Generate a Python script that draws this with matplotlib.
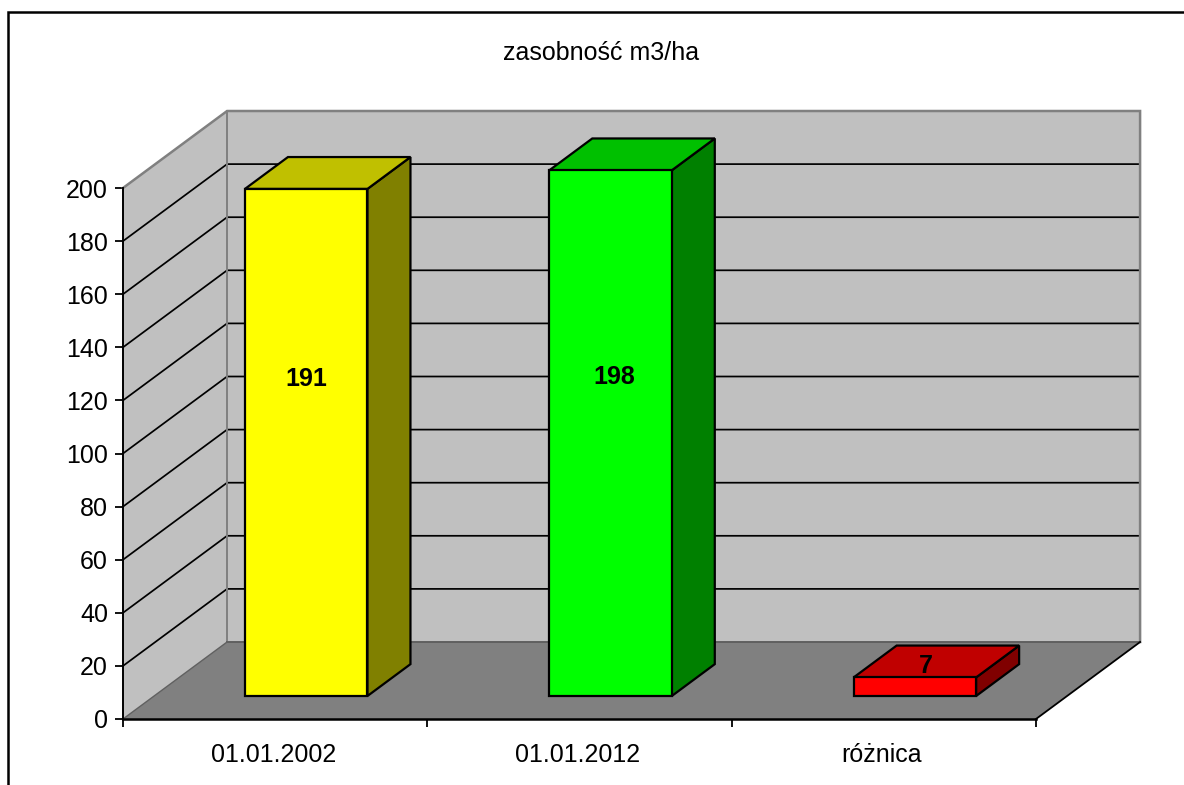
import matplotlib
matplotlib.use('Agg')
import matplotlib.pyplot as plt
from matplotlib.lines import Line2D
from matplotlib.transforms import ScaledTranslation

plt.rcParams['font.family'] = ['Liberation Sans', 'DejaVu Sans']

categories = ['01.01.2002', '01.01.2012', 'różnica']
values = [191, 198, 7]
front_colors = ['#ffff00', '#00ff00', '#ff0000']
top_colors = ['#c0c000', '#00c000', '#c00000']
side_colors = ['#808000', '#008000', '#800000']
y_ticks = list(range(0, 201, 20))
title = 'zasobność m3/ha'

W, H = 1184, 785
# depth of the fake 3d box, in data units (categories / values)
DX, DY = 0.342, 29.0
# bars
BAR_X, BAR_W = 0.102, 0.4025
BAR_DX, BAR_DY = 0.1413, 12.0
BAR_Y = 8.66
# where excel put the value labels, shift from bar centre / height in data units
label_dx = [0.0, 0.012, 0.036]
label_y = [128.0, 128.8, 20.0]

fig = plt.figure(figsize=(W / 100, H / 100), dpi=100)
ax = fig.add_axes([123 / W, 1 - 719 / H, (1036 - 123) / W, (719 - 188) / H])
ax.set_xlim(0, 3)
ax.set_ylim(0, 200)
ax.patch.set_visible(False)

n = len(categories)
top = y_ticks[-1]

# walls and floor
ax.fill([0, DX, DX, 0], [0, DY, top + DY, top], color='#c0c0c0', lw=0, zorder=1, clip_on=False)
ax.fill([DX, n + DX, n + DX, DX], [DY, DY, top + DY, top + DY], color='#c0c0c0', lw=0, zorder=1, clip_on=False)
ax.fill([0, n, n + DX, DX], [0, 0, DY, DY], color='#808080', lw=0, zorder=1, clip_on=False)

# gridlines run along the side wall then the back wall
for t in y_ticks[1:-1]:
    ax.plot([0, DX, n + DX], [t, t + DY, t + DY], color='black', lw=1.25, clip_on=False, zorder=2)

edge = '#808080'
ax.plot([0, DX, n + DX, n + DX], [top, top + DY, top + DY, DY], color=edge, lw=1.8, clip_on=False, zorder=2, solid_joinstyle='miter')
ax.plot([DX, DX], [DY, top + DY], color=edge, lw=1.4, clip_on=False, zorder=2)
ax.plot([DX, n + DX], [DY, DY], color='#606060', lw=1.4, clip_on=False, zorder=2)
ax.plot([0, DX], [0, DY], color='#606060', lw=1.0, clip_on=False, zorder=2)
ax.plot([n, n + DX], [0, DY], color='black', lw=1.3, clip_on=False, zorder=2)

# bars, three faces each
for i, v in enumerate(values):
    x0 = i + BAR_X + (1 - BAR_W) / 2
    x1 = x0 + BAR_W
    y0 = BAR_Y
    y1 = BAR_Y + v
    kw = dict(edgecolor='black', lw=1.6, clip_on=False, zorder=3, joinstyle='miter')
    ax.fill([x1, x1 + BAR_DX, x1 + BAR_DX, x1], [y0, y0 + BAR_DY, y1 + BAR_DY, y1], facecolor=side_colors[i], **kw)
    ax.fill([x0, x1, x1 + BAR_DX, x0 + BAR_DX], [y1, y1, y1 + BAR_DY, y1 + BAR_DY], facecolor=top_colors[i], **kw)
    ax.fill([x0, x1, x1, x0], [y0, y0, y1, y1], facecolor=front_colors[i], **kw)
    ax.text((x0 + x1) / 2 + label_dx[i], label_y[i], str(v), ha='center', va='center',
            fontsize=18, fontweight='bold', color='black', zorder=4)

# axes
for s in ['top', 'right']:
    ax.spines[s].set_visible(False)
ax.spines['left'].set_linewidth(1.4)
ax.spines['bottom'].set_linewidth(1.8)
for s in ax.spines.values():
    s.set_zorder(5)
ax.set_yticks(y_ticks)
ax.set_xticks(range(n + 1))
ax.set_xticklabels([])
ax.set_xticks([i + 0.5 for i in range(n)], minor=True)
ax.set_xticklabels(categories, minor=True)
ax.tick_params(axis='y', length=5.8, width=1.3, pad=5, labelsize=18)
ax.tick_params(axis='x', which='major', length=5.8, width=1.3)
ax.tick_params(axis='x', which='minor', length=0, pad=17, labelsize=18)
shift = ScaledTranslation(-2 / 100, 0, fig.dpi_scale_trans)
for lab in ax.get_xticklabels(minor=True):
    lab.set_transform(lab.get_transform() + shift)

ax.text(1.571, 200 + 200 * (188 - 53) / 531, title, ha='center', va='center', fontsize=18)

# outer frame, cut off at the right and bottom of the picture
fig.add_artist(Line2D([8 / W, 8 / W, 1], [0, 1 - 12 / H, 1 - 12 / H], color='black', lw=1.8, solid_joinstyle='miter'))

fig.savefig('out.png', dpi=100)
